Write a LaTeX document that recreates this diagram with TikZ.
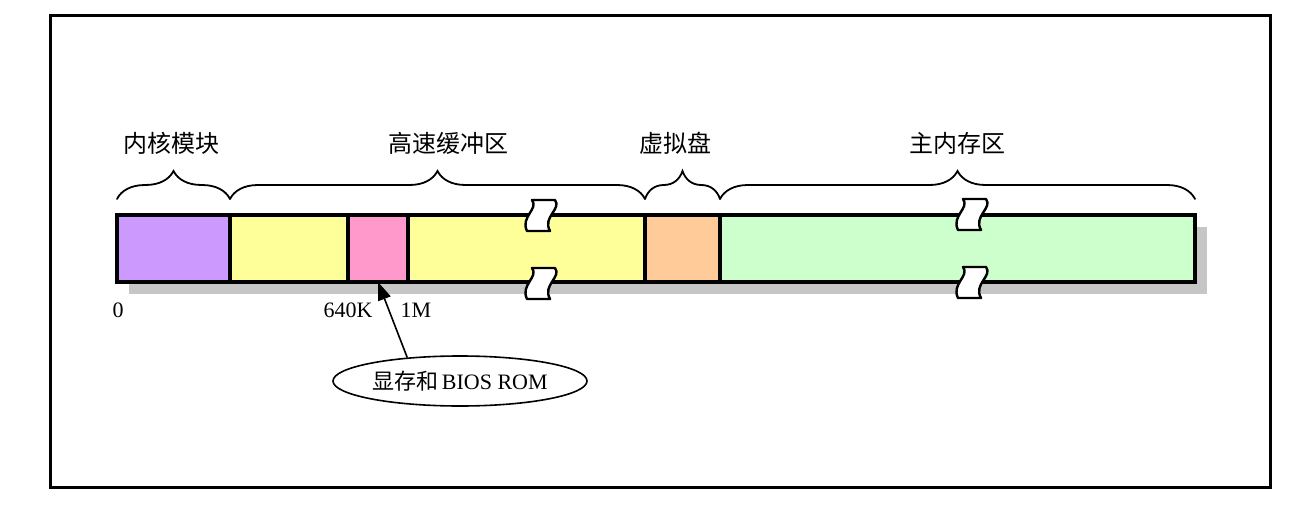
\documentclass[tikz,border=0pt]{standalone}
\usepackage{fontspec}
\setmainfont{Liberation Serif}
\newfontfamily\cjk{Noto Sans CJK SC}
\usetikzlibrary{shapes.geometric,arrows.meta,decorations.pathreplacing}

\definecolor{kernelcol}{HTML}{CC99FF}
\definecolor{buffercol}{HTML}{FFFF99}
\definecolor{romcol}{HTML}{FF99CC}
\definecolor{ramdiskcol}{HTML}{FFCC99}
\definecolor{maincol}{HTML}{CCFFCC}
\definecolor{shadowcol}{HTML}{C6C6C6}

\tikzset{
  cell/.style={draw, line width=3.4pt, minimum height=67pt, inner sep=0pt,
    outer sep=0pt, anchor=north west},
  membrace/.style={draw, line width=1.8pt, line cap=round,
    decorate, decoration={brace, amplitude=28pt}},
  region/.style={font=\cjk\fontsize{24}{28}\selectfont, inner sep=0pt},
  addr/.style={font=\fontsize{22}{26}\selectfont, inner sep=0pt},
  breakmark/.pic={
    \draw[fill=white, line width=2.4pt, line join=round]
      (0,0) -- (23,0) .. controls (30,9) and (10,17) .. (18,31)
      -- (-5,31) .. controls (-12,17) and (7,9) .. (0,0) -- cycle;
  }
}

\begin{document}
\begin{tikzpicture}[x=1pt, y=-1pt]
  \useasboundingbox (0,0) rectangle (1316,508);

  % outer frame
  \draw[line width=3pt] (50,16) rectangle (1270,487);

  % drop shadow of the memory bar
  \fill[shadowcol] (129,227) rectangle (1207,294);

  % memory regions
  \node[cell, fill=kernelcol,  minimum width=113pt] (kernel)  at (117,215) {};
  \node[cell, fill=buffercol,  minimum width=118pt] (buflow)  at (230,215) {};
  \node[cell, fill=romcol,     minimum width=60pt]  (rom)     at (348,215) {};
  \node[cell, fill=buffercol,  minimum width=237pt] (bufhigh) at (408,215) {};
  \node[cell, fill=ramdiskcol, minimum width=75pt]  (ramdisk) at (645,215) {};
  \node[cell, fill=maincol,    minimum width=475pt] (mainmem) at (720,215) {};

  % break marks on long regions
  \pic at (532,200) {breakmark};
  \pic at (532,268) {breakmark};
  \pic at (963,199) {breakmark};
  \pic at (963,267) {breakmark};

  % braces over the regions
  \draw[membrace] ([yshift=16pt]kernel.north west) -- ([yshift=16pt]kernel.north east);
  \draw[membrace] ([yshift=16pt]buflow.north west) -- ([yshift=16pt]bufhigh.north east);
  \draw[membrace] ([yshift=16pt]ramdisk.north west) -- ([yshift=16pt]ramdisk.north east);
  \draw[membrace] ([yshift=16pt]mainmem.north west) -- ([yshift=16pt]mainmem.north east);

  % region names
  \node[region] (lkernel)  at (171,143) {内核模块};
  \node[region] (lbuffer)  at (448,143) {高速缓冲区};
  \node[region] (lramdisk) at (675,143) {虚拟盘};
  \node[region] (lmain)    at (957,143) {主内存区};

  % addresses
  \node[addr] (a0)    at (118,310) {0};
  \node[addr] (a640k) at (348,310) {640K};
  \node[addr] (a1m)   at (416,310) {1M};

  % video memory and BIOS ROM callout
  \node[draw, ellipse, line width=1.6pt, minimum width=254pt, minimum height=50pt,
        inner sep=0pt, font=\fontsize{22}{26}\selectfont] (rombubble) at (460,381)
        {{\cjk 显存和}\,BIOS ROM};
  \draw[line width=1.6pt, -{Triangle[length=18pt, width=13pt]}]
    (rombubble.156) -- (rom.south);
\end{tikzpicture}
\end{document}
